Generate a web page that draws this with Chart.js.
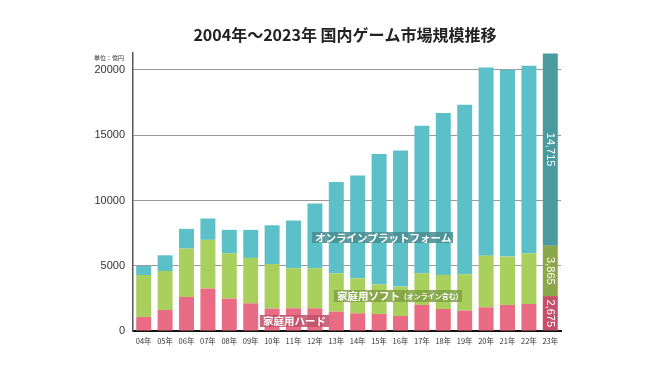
<!DOCTYPE html>
<html><head><meta charset="utf-8">
<script src="https://cdn.jsdelivr.net/npm/chart.js@4/dist/chart.umd.min.js"></script>
<style>html,body{margin:0;padding:0;background:#fff;}#wrap{width:670px;height:377px;position:relative;}</style>
</head><body><div id="wrap"><canvas id="c" width="670" height="377"></canvas></div>
<script>
const categories = ['04年','05年','06年','07年','08年','09年','10年','11年','12年','13年','14年','15年','16年','17年','18年','19年','20年','21年','22年','23年'];
const hardware = [1070,1610,2610,3250,2480,2120,1710,1740,1740,1480,1355,1300,1150,1995,1690,1560,1815,1995,2070,2675];
const software = [3220,2990,3705,3735,3480,3480,3425,3070,3070,2940,2685,2275,2250,2430,2610,2790,3960,3705,3885,3865];
const online = [690,1200,1510,1635,1790,2150,2965,3655,4960,7005,7875,9995,10430,11300,12400,12985,14420,14320,14370,14715];
const yTicks = [0,5000,10000,15000,20000];
const titleText = '2004年～2023年 国内ゲーム市場規模推移';
const unitText = '単位：億円';
const lastLabels = ['2,675','3,865','14,715'];

const last = categories.length - 1;
function colorFor(normal, dark){ return ctx => ctx.dataIndex === last ? dark : normal; }

const overlay = {
  id: 'overlay',
  afterDraw(chart){
    const c = chart.ctx;
    c.save();
    c.fillStyle = '#222';
    c.font = 'bold 16px "Noto Sans CJK JP"';
    c.textAlign = 'center'; c.textBaseline = 'middle';
    c.fillText(titleText, 345, 35);
    c.font = '6px "Noto Sans CJK JP"';
    c.textAlign = 'right';
    c.fillStyle = '#333';
    c.fillText(unitText, 124, 58);
    function box(x, y, w, h, col, text, font, extra){
      c.fillStyle = col; c.fillRect(x, y, w, h);
      c.fillStyle = '#fff'; c.font = font; c.textAlign = 'left'; c.textBaseline = 'middle';
      c.fillText(text, x + 3, y + h/2 + 0.5);
      if (extra) { const tw = c.measureText(text).width; c.font = extra[1]; c.fillText(extra[0], x + 3 + tw + 4, y + h/2 + 0.5); }
    }
    box(312, 232, 141, 11, 'rgba(70,140,146,0.85)', 'オンラインプラットフォーム', 'bold 10.5px "Noto Sans CJK JP"');
    box(334, 290, 128, 12, 'rgba(128,160,66,0.85)', '家庭用ソフト', 'bold 10.5px "Noto Sans CJK JP"', ['(オンライン含む)', 'bold 7px "Noto Sans CJK JP"']);
    box(260, 315, 69, 12, 'rgba(190,80,104,0.85)', '家庭用ハード', 'bold 10.5px "Noto Sans CJK JP"');
    const metas = [0,1,2].map(i => chart.getDatasetMeta(i).data[last]);
    c.font = '11px "Liberation Sans"';
    c.fillStyle = '#fff';
    metas.forEach((bar, i) => {
      const cy = (bar.y + bar.base) / 2;
      c.save();
      c.translate(bar.x, cy);
      c.rotate(Math.PI/2);
      c.textAlign = 'center'; c.textBaseline = 'middle';
      c.fillText(lastLabels[i], 0, 0);
      c.restore();
    });
    c.restore();
  }
};

new Chart(document.getElementById('c'), {
  type: 'bar',
  data: {
    labels: categories,
    datasets: [
      {label:'家庭用ハード', data: hardware, backgroundColor: colorFor('#e96c84','#c5506a')},
      {label:'家庭用ソフト（オンライン含む）', data: software, backgroundColor: colorFor('#a9cf5d','#8ca64a')},
      {label:'オンラインプラットフォーム', data: online, backgroundColor: colorFor('#5cc0c8','#4a9b9f')}
    ]
  },
  options: {
    responsive: false,
    animation: false,
    devicePixelRatio: 1,
    layout: {padding: {top: 53, right: 109, left: 0, bottom: 0}},
    plugins: {legend: {display: false}, title: {display: false}, tooltip: {enabled: false}},
    datasets: {bar: {barPercentage: 0.7, categoryPercentage: 1.0, borderWidth: 0}},
    scales: {
      x: {
        stacked: true,
        grid: {display: false, drawTicks: false},
        border: {display: true, color: '#111', width: 2},
        ticks: {color: '#333', font: {size: 7.5, family: '"Noto Sans CJK JP"'}, padding: 6, maxRotation: 0, autoSkip: false},
        afterFit(s){ s.height = 46; }
      },
      y: {
        stacked: true,
        min: 0, max: 21300,
        afterBuildTicks(s){ s.ticks = yTicks.map(v => ({value: v})); },
        grid: {color: '#999', lineWidth: 1, drawTicks: false},
        border: {display: true, color: '#555', width: 1.5},
        ticks: {color: '#333', font: {size: 11, family: '"Liberation Sans"'}, padding: 8, callback: v => String(v)},
        afterFit(s){ s.width = 133; }
      }
    }
  },
  plugins: [overlay]
});
</script>
</body></html>
